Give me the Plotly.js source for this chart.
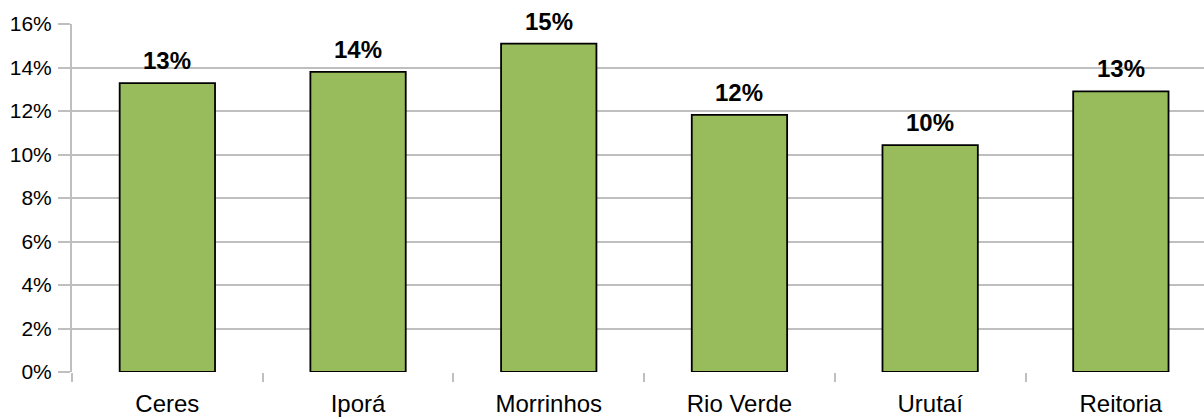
<!DOCTYPE html>
<html>
<head>
<meta charset="utf-8">
<script src="https://cdn.plot.ly/plotly-3.0.1.min.js"></script>
<style>html,body{margin:0;padding:0;background:#fff;}#chart{width:1204px;height:419px;}</style>
</head>
<body>
<div id="chart"></div>
<script>
const categories = ["Ceres", "Iporá", "Morrinhos", "Rio Verde", "Urutaí", "Reitoria"];
const values = [13.28, 13.80, 15.10, 11.82, 10.43, 12.90];
const valueLabels = ["13%", "14%", "15%", "12%", "10%", "13%"];

const trace = {
  type: "bar",
  x: categories,
  y: values,
  width: 0.5,
  marker: {color: "#98BC5C", line: {color: "#000000", width: 1.8}},
  hoverinfo: "skip"
};

const annotations = categories.map((c, i) => ({
  x: c, y: values[i], xref: "x", yref: "y",
  text: "<b>" + valueLabels[i] + "</b>",
  showarrow: false, yanchor: "bottom", yshift: 7,
  font: {family: "Liberation Sans, Arial, sans-serif", size: 24, color: "#000"}
}));

const layout = {
  width: 1204, height: 419,
  margin: {l: 72, r: 0, t: 24, b: 47, pad: 0},
  paper_bgcolor: "#fff", plot_bgcolor: "#fff",
  showlegend: false,
  font: {family: "Liberation Sans, Arial, sans-serif", color: "#000"},
  xaxis: {
    type: "category",
    range: [-0.5, 5.436],
    tickson: "boundaries",
    ticks: "outside", ticklen: 9, tickwidth: 2, tickcolor: "#BFBFBF",
    showgrid: false, zeroline: false,
    showline: false,
    tickfont: {size: 24, color: "#000"},
    ticklabelstandoff: 15,
    fixedrange: true
  },
  yaxis: {
    range: [0, 16], dtick: 2, tick0: 0,
    ticksuffix: "%",
    ticks: "outside", ticklen: 12, tickwidth: 2, tickcolor: "#BFBFBF",
    showgrid: true, gridcolor: "#BFBFBF", gridwidth: 2,
    zeroline: false,
    showline: true, linecolor: "#BFBFBF", linewidth: 2,
    tickfont: {size: 21, color: "#000"},
    ticklabelstandoff: 2,
    fixedrange: true
  },
  annotations: annotations
};

Plotly.newPlot("chart", [trace], layout, {displayModeBar: false, staticPlot: true});
</script>
</body>
</html>
